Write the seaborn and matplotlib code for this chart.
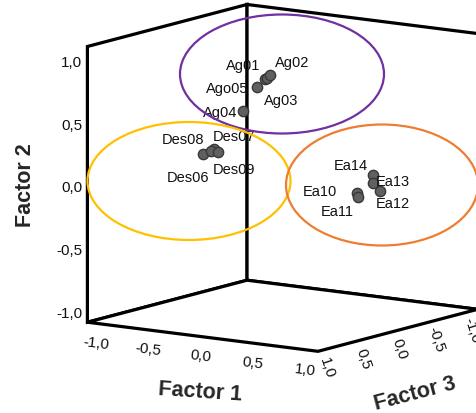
import math
import warnings
import matplotlib
matplotlib.use("Agg")
import matplotlib.pyplot as plt
import seaborn as sns
import numpy as np
import pandas as pd
from matplotlib.patches import Ellipse
from matplotlib.transforms import offset_copy
from mpl_toolkits.mplot3d import proj3d

sns.set_theme(style="white")
plt.rcParams["font.family"] = ["Liberation Sans", "DejaVu Sans"]

# Factor scores of the items
labels = ["Ag01", "Ag02", "Ag03", "Ago05", "Ag04",
          "Des06", "Des08", "Des07", "Des09",
          "Ea14", "Ea13", "Ea12", "Ea10", "Ea11"]
factor1 = [0.02, 0.08, 0.04, -0.03, -0.12,
           -0.20, -0.09, -0.08, -0.01,
           0.82, 0.84, 0.88, 0.80, 0.81]
factor2 = [0.83, 0.87, 0.84, 0.77, 0.58,
           0.29, 0.34, 0.35, 0.34,
           0.10, 0.04, -0.02, -0.02, -0.05]
factor3 = [0.27, 0.29, 0.27, 0.31, 0.37,
           0.80, 0.86, 0.83, 0.88,
           -0.06, -0.03, -0.07, 0.13, 0.13]
tick_values = [-1.0, -0.5, 0.0, 0.5, 1.0]

df = pd.DataFrame({"label": labels, "f1": factor1, "f2": factor2, "f3": factor3})

# label placement around each marker (pixels: right, up)
label_offsets = {
    "Ag01": (-22, 14), "Ag02": (22, 13), "Ag03": (14, -22), "Ago05": (-30, -1),
    "Ag04": (-23, -1), "Des06": (-15, -23), "Des08": (-28, 12), "Des07": (20, 13),
    "Des09": (16, -17), "Ea14": (-22, 10), "Ea13": (20, 2), "Ea12": (13, -12),
    "Ea10": (-37, 2), "Ea11": (-21, -14),
}

W, H = 476, 414
fig = plt.figure(figsize=(W / 100, H / 100), dpi=100)
fig.patch.set_facecolor("white")

S = 414.0
left = 282.5 - 0.5135 * S
bottom = (H - 178.9) - 0.5135 * S
ax = fig.add_axes([left / W, bottom / H, S / W, S / H], projection="3d")
ax.set_proj_type("ortho")
ax.view_init(elev=10.5, azim=-55.3)
lim = 1.1
ax.set_xlim(-lim, lim)
ax.set_ylim(lim, -lim)
ax.set_zlim(-lim, lim)
ax.set_box_aspect((1, 1, 1), zoom=1.139)
ax.patch.set_visible(False)
ax.grid(False)
ax.set_xticks([])
ax.set_yticks([])
ax.set_zticks([])
for axis in (ax.xaxis, ax.yaxis, ax.zaxis):
    axis.pane.set_facecolor("white")
    axis.pane.set_edgecolor("black")
    axis.pane.set_linewidth(2.3)
    axis.pane.set_alpha(1)
    axis.pane.set_closed(True)
    axis.pane.set_joinstyle("miter")
    axis.line.set_visible(False)

# 3D axes order: (Factor 1, Factor 3, Factor 2 vertical)
ax.scatter(df["f1"], df["f3"], df["f2"], s=55, c="#606060",
           edgecolors="#383838", linewidths=1.0, depthshade=False, alpha=1)

M = ax.get_proj()


def to2d(f1, f2, f3):
    with warnings.catch_warnings():
        warnings.simplefilter("ignore")
        xs, ys, _ = proj3d.proj_transform(f1, f3, f2, M)
    return float(xs), float(ys)


def angle_along(p, d):
    x0, y0 = to2d(*p)
    x1, y1 = to2d(p[0] + d[0], p[1] + d[1], p[2] + d[2])
    a = math.degrees(math.atan2(y1 - y0, x1 - x0))
    a = (a + 180) % 180
    return a - 180 if a > 90 else a


def put(f1, f2, f3, s, dx, dy, direction=None, **kw):
    x, y = to2d(f1, f2, f3)
    rot = angle_along((f1, f2, f3), direction) if direction is not None else 0
    tr = offset_copy(ax.transData, fig=fig, x=dx, y=dy, units="dots")
    ax.text2D(x, y, s, transform=tr, rotation=rot, rotation_mode="anchor", **kw)


for _, r in df.iterrows():
    dx, dy = label_offsets[r["label"]]
    put(r["f1"], r["f2"], r["f3"], r["label"], dx, dy,
        ha="center", va="center", fontsize=10.5, color="#111111")


def fmt(v):
    return f"{v:.1f}".replace(".", ",")


for v in tick_values:
    # Factor 2, on the front-left vertical edge
    put(-lim, v, lim, fmt(v), -5, -3, ha="right", va="center",
        fontsize=11, color="#111111")
    # Factor 1, below the front-left floor edge
    put(v, -lim, lim, fmt(v), -2, -19, direction=(1, 0, 0),
        ha="center", va="center", fontsize=11, color="#111111")
    # Factor 3, below the front-right floor edge
    put(lim, -lim, v, fmt(v), 2, -18, direction=(0.41, -1, 0),
        ha="center", va="center", fontsize=11, color="#111111")

put(-lim, 0, lim, "Factor 2", -62, 0, direction=(0, 1, 0),
    ha="center", va="center", fontsize=15.5, fontweight="bold")
put(0, -lim, lim, "Factor 1", -3, -55, direction=(1, 0.05, 0),
    ha="center", va="center", fontsize=15.5, fontweight="bold")
put(lim, -lim, 0, "Factor 3", 17, -63, direction=(0, 0, 1),
    ha="center", va="center", fontsize=15.5, fontweight="bold")

# group outlines
groups = [((282, 75), 204, 119, "#7030A0"),
          ((189, 182), 203, 118, "#FFC000"),
          ((382, 186), 192, 121, "#ED7D31")]
for (cx, cy), w, h, col in groups:
    fig.add_artist(Ellipse((cx / W, 1 - cy / H), w / W, h / H, fill=False,
                           edgecolor=col, linewidth=1.6, transform=fig.transFigure))

fig.savefig("out.png", dpi=100)
